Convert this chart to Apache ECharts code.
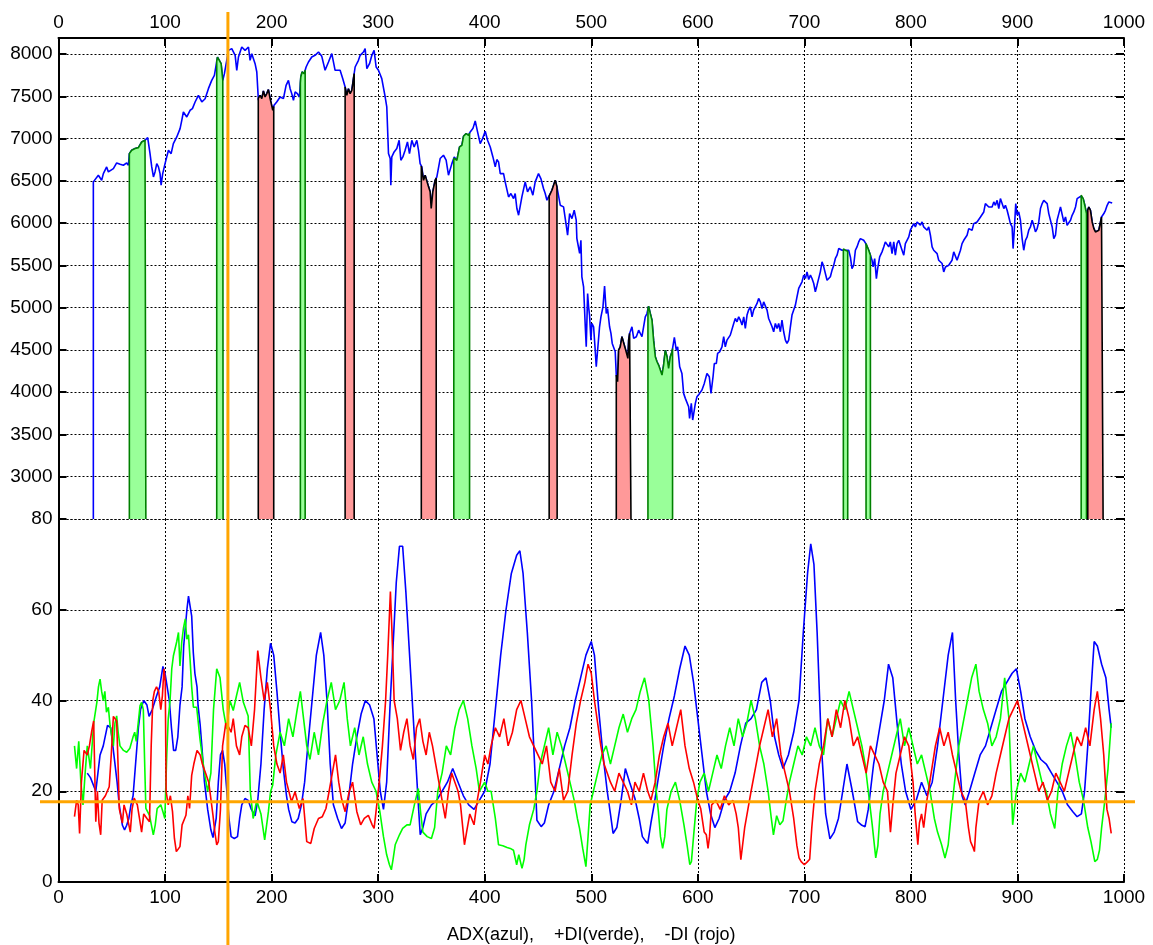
<!DOCTYPE html>
<html><head><meta charset="utf-8">
<script src="https://cdn.jsdelivr.net/npm/echarts@6.0.0/dist/echarts.min.js"></script>
<style>html,body{margin:0;padding:0;background:#fff}#c{width:1153px;height:945px}</style>
</head><body><div id="c"></div><script>
// ---- data ----
const price = [[32.7,2500],[32.7,6488],[37.4,6566],[39,6547],[40.5,6507],[42.1,6586],[45.2,6665],[46.8,6606],[48.4,6586],[51.5,6645],[54.6,6712],[57.8,6696],[60.9,6685],[64,6712],[65.6,6685],[66.5,6822],[68.7,6862],[71.9,6882],[75,6893],[76.5,6870],[78.1,6960],[81.2,6980],[83.7,7012],[85.9,6822],[87.5,6665],[89.1,6547],[90.6,6606],[92.2,6704],[93.8,6665],[95.3,6586],[96.3,6448],[97.8,6586],[100,6704],[103.2,6862],[105.7,6822],[107.8,6941],[111,7019],[114.1,7118],[115.7,7216],[117.2,7315],[120.4,7256],[123.5,7335],[125.7,7354],[128.2,7433],[131.3,7512],[132.9,7472],[134.5,7433],[137.6,7472],[140.7,7591],[143.8,7689],[146.3,7748],[147.9,7867],[149.2,7965],[150.7,7973],[152.6,7886],[154.2,7689],[155.7,7768],[157.9,7926],[159.5,8044],[162.6,8064],[165.8,7985],[167.3,7807],[168.9,7965],[172,8083],[175.1,8044],[178.3,8083],[179.8,7926],[181.4,8004],[184.5,7886],[186.1,7788],[187.6,7453],[189.2,7512],[190.8,7473],[192.3,7563],[193.9,7492],[195.5,7532],[197,7579],[198.6,7473],[200.1,7453],[201.1,7335],[202.3,7394],[204.8,7433],[208,7492],[211.1,7473],[213.6,7630],[215.8,7689],[217.4,7591],[218.9,7532],[220.5,7453],[222.1,7552],[224.2,7532],[226.1,7492],[227.4,7729],[228.6,7788],[230.5,7768],[232.4,7847],[234.6,7906],[237.7,7965],[240.8,7985],[244,8024],[247.1,7973],[250.2,7808],[253.4,7906],[256.5,8005],[259.6,7808],[264.3,7808],[266.8,7709],[269,7611],[270.6,7512],[272.1,7591],[273.7,7532],[275.3,7571],[276.8,7709],[278.4,7847],[281.5,7926],[283.1,7985],[286.2,8024],[287.8,8064],[289.4,7827],[291.9,7886],[294.1,7985],[296.2,8044],[298.1,7847],[300.3,7808],[303.4,7709],[306.6,7492],[308.1,7374],[309.7,6823],[311.3,6764],[311.9,6448],[312.8,6783],[315,6842],[317.5,6882],[319.7,6980],[321.3,6744],[323.2,6783],[325.3,6862],[327.5,6961],[329.4,6823],[331.6,6980],[333.8,6901],[336.3,6980],[337.9,6862],[339.4,6704],[341,6665],[342.6,6507],[344.1,6567],[345.7,6586],[347.3,6429],[348.8,6370],[349.8,6173],[351.3,6370],[353.5,6507],[355.1,6547],[356.6,6547],[358.2,6764],[361.3,6803],[363.8,6744],[366,6567],[367.6,6547],[369.2,6704],[371.4,6783],[373.9,6744],[376.4,6901],[378.6,6921],[380.1,7027],[382.6,7059],[384.8,7039],[386.4,7079],[388.9,7118],[391.1,7209],[393.3,7079],[395.8,6941],[398,7000],[400.5,7087],[402.7,6980],[405.2,6901],[407.7,6783],[409.9,6665],[411.4,6752],[413,6724],[414.6,6586],[417.7,6586],[419.2,6488],[422.4,6310],[424.6,6350],[427.1,6291],[428.6,6350],[430.2,6173],[431.8,6094],[434.9,6310],[438,6488],[440.2,6370],[442.7,6429],[445.2,6330],[447.4,6488],[450.5,6586],[452.7,6527],[455.2,6409],[456.8,6350],[458.4,6271],[459.9,6310],[461.5,6330],[463.1,6389],[464.6,6409],[466.2,6507],[467.8,6429],[468.4,6429],[470.9,6212],[474,6192],[476.5,5976],[477.8,5857],[479.7,6113],[481.9,6054],[484,6153],[485.9,6035],[486.5,5818],[488.1,5798],[489.1,5641],[490.3,5798],[491.2,5365],[492.8,5247],[494.4,4774],[495.3,4537],[496.6,5168],[497.5,5010],[498.4,4912],[499.7,4616],[500.6,4813],[502.2,4774],[503.5,4537],[504.7,4301],[506,4301],[507.8,4774],[509.1,4892],[511,5010],[512.5,5255],[514.1,4931],[515.3,4990],[517.2,4774],[518.5,4695],[519.7,4577],[521,4557],[522.5,4478],[523.5,4203],[524.7,4124],[525.7,4498],[527.2,4537],[528.8,4656],[530.4,4656],[531.9,4518],[533.5,4537],[534.4,4400],[535.1,4616],[536,4695],[537.3,4715],[538.2,4774],[539.8,4636],[542.3,4656],[544.5,4734],[546,4715],[547.6,4656],[549.2,4675],[550.7,4892],[552.3,4931],[553.8,5018],[555.4,4931],[557,4853],[558.5,4616],[560.1,4419],[561.7,4360],[563.2,4321],[564.8,4262],[566.4,4203],[567.9,4321],[569.5,4498],[571.1,4419],[572.6,4281],[574.2,4419],[575.8,4478],[578,4648],[579.8,4498],[581.1,4537],[583,4301],[585.1,4222],[586.7,3986],[588.3,3927],[589.8,3907],[591.4,3828],[592.3,3690],[593.9,3868],[595.2,3671],[596.7,3651],[597.7,3868],[599.2,3946],[601.7,3986],[603.9,4025],[606.1,4104],[608.6,4222],[610.8,4183],[612.4,3986],[614.3,4183],[615.5,4340],[617.4,4340],[618.6,4459],[620.5,4478],[622.7,4537],[624.3,4656],[625.8,4537],[627.4,4616],[629,4636],[630.5,4675],[632.1,4656],[633.7,4813],[635.2,4872],[636.8,4833],[638.4,4892],[639.9,4853],[641.5,4794],[643.1,4892],[644.6,4754],[646.2,4912],[647.7,4971],[649.3,5010],[650.9,4892],[652.4,4971],[654,4990],[655.6,5050],[657.1,5109],[658.7,5069],[660.3,4990],[661.8,5069],[663.4,5089],[665,4971],[666.5,4872],[668.1,4853],[669.7,4774],[671.2,4715],[672.8,4813],[674.4,4754],[675.9,4813],[677.5,4715],[679,4853],[680.6,4715],[682.2,4616],[683.7,4577],[685.3,4616],[686.9,4774],[688.4,4912],[690,4971],[691.6,5030],[693.1,5128],[694.7,5227],[696.3,5207],[697.8,5306],[699.4,5385],[701,5345],[702.5,5424],[704.1,5333],[705.7,5385],[707.2,5345],[708.8,5286],[710.3,5188],[711.9,5266],[713.5,5247],[715,5424],[716.6,5542],[718.2,5483],[719.7,5503],[721.3,5325],[722.9,5306],[724.4,5365],[726,5444],[727.6,5503],[729.1,5582],[730.7,5621],[732.3,5700],[733.8,5720],[735.4,5679],[736.9,5699],[738.5,5679],[740.1,5660],[741.6,5679],[743.2,5600],[744.7,5462],[746.3,5502],[747.9,5679],[749.4,5719],[751,5778],[752.6,5817],[754.1,5837],[755.7,5797],[757.3,5766],[758.8,5750],[760.4,5679],[762,5620],[763.5,5561],[764.5,5482],[766,5581],[767.6,5344],[768.8,5463],[770.7,5600],[772.9,5660],[774.5,5719],[776,5778],[777.6,5797],[779.2,5719],[780.7,5778],[782.3,5640],[783.9,5778],[785.4,5620],[787,5758],[788.6,5797],[790.1,5778],[791.7,5679],[793.3,5620],[794.8,5758],[796.4,5738],[798,5837],[799.5,5916],[801.1,5935],[802.7,5994],[804.2,5955],[805.8,6014],[807.3,6034],[808.9,5975],[810.5,6014],[812,5955],[813.6,5975],[815.2,5916],[816.7,5955],[818.3,5857],[819.9,5719],[821.4,5679],[823,5699],[824.6,5640],[826.1,5561],[827.7,5581],[829.3,5522],[830.8,5423],[832.4,5482],[834,5482],[835.5,5502],[837.1,5502],[838.6,5561],[840.2,5660],[841.8,5660],[843.3,5561],[844.9,5541],[846.5,5679],[848,5758],[849.6,5797],[851.2,5778],[852.7,5857],[854.3,5935],[855.9,5955],[857.4,5916],[859,5994],[860.6,5994],[862.1,6014],[863.7,6034],[865.3,6073],[866.8,6093],[868.4,6132],[869.9,6231],[871.5,6231],[873.1,6191],[874.6,6211],[876.2,6191],[877.8,6251],[879.3,6211],[880.9,6270],[882.5,6172],[884,6290],[885.6,6310],[887.2,6172],[888.7,6211],[890.3,6152],[891.9,6073],[893.4,5994],[895,5955],[895.9,5699],[897.2,5955],[898.4,6231],[899.7,6093],[901.2,6132],[902.8,6034],[904.4,5817],[905.9,5679],[907.5,5797],[909.1,5837],[910.6,5916],[912.2,5955],[913.8,6034],[915.3,5975],[916.9,5896],[918.5,5935],[920,6014],[921.6,6172],[923.2,6231],[924.7,6270],[926.3,6270],[927.9,6231],[929.4,6113],[931,6093],[932.6,5955],[934.1,5817],[935.7,5857],[937.2,6034],[938.8,6113],[940.4,6191],[941.9,6172],[943.5,6014],[945.1,6073],[946.6,5975],[948.2,5955],[949.8,6034],[951.3,6093],[952.9,6132],[954.5,6191],[956,6290],[957.6,6302],[959.2,6317],[960.1,6337],[961.7,6290],[963.2,6211],[964.8,6113],[967,6191],[968.5,6152],[970.1,6014],[971.7,5935],[973.2,5896],[974.8,5916],[976.4,5916],[977.9,5935],[978.9,6073],[980.4,6073],[981.1,6113],[982.6,6152],[984.2,6211],[985.8,6251],[987.3,6251],[988.9,6239]];

// signal bands: [start, end, kind]  'up' = green, 'down' = red
const bands = [[66.5,82,'up'],[148.5,154.5,'up'],[187.5,202,'down'],[227,231.5,'up'],[269,277.5,'down'],[340.5,354.5,'down'],[371,385.8,'up'],[460.5,468,'down'],[523.5,537.3,'down'],[553.2,576.3,'up'],[736.6,740.7,'up'],[757.9,762,'up'],[959.8,964.8,'up'],[966,980.4,'down']];

// ADX (blue)
const adx = [[27,24],[30,23],[35,20],[39,28],[42,30],[46,34.5],[49,34],[52,28],[55,22],[57,17],[60,12.5],[62,11.5],[64,12.5],[66,14],[68,17],[70,19],[72,25],[75,34],[77,38],[80,40],[83,39],[85,36.5],[88,38],[92,41],[95,43],[98,47.5],[100,46],[102,43],[104,40],[106,34],[108,29],[110,29],[112,32],[114,39],[116,43],[117.5,52],[119,56],[120.5,60],[122,63],[123.5,62.7],[125,58.6],[126.5,50.6],[128,46],[130,43],[131,38.8],[133,34.5],[134.5,30],[137,22],[140,16],[143,11.5],[145,9.8],[148,14],[150,22],[152,28],[154,29],[156,26],[158,20],[160,14],[162,10],[165,9.6],[168,10],[170,14],[172,17],[175,18.4],[178,18],[181,16],[184.5,14.6],[187,18],[190,26],[193,38],[196,47],[199,52.6],[202,50],[205,42],[208,33],[211,25],[214,19],[216,16],[219,13.3],[222,13],[225,14],[228,17],[231,22],[234,30],[238,40],[242,50],[246,55],[249,50],[252,40],[255,26],[258,17],[262,14],[265.6,11.8],[269,13],[272,18],[276,26],[280,32],[284,37],[288,40],[292,39],[296,36],[299,28],[302,20],[305,16],[308,22],[311,38],[314,52],[317,66],[320,74],[323,74],[326,64],[329,52],[332,40],[335,28],[338,16],[339.5,10.4],[342,12],[345,15],[350,17],[355,18],[360,20],[365,22],[370,25],[375,22],[380,19],[385,17],[390,16],[395,18],[400,20],[405,26],[410,38],[415,50],[420,60],[425,68],[430,72],[433,73],[436,68],[440,55],[444,40],[447,25],[449,13.6],[453,12.2],[456,13],[460,17],[465,20],[470,25],[475,30],[480,34],[485,40],[490,45],[495,50],[500,53],[503,50],[507,38],[511,28],[515,20],[518,15],[520.5,10.7],[524,12],[528,18],[532,25],[536,22],[541,18.4],[545,14],[548,10],[551,9],[553,8.5],[556,13],[559,17],[563,23],[568,30],[573,36],[578,41],[583,47],[588,52],[592,50],[596,44],[600,36],[604,28],[608,20],[612,15],[616,12],[620,14],[625,18],[630,20],[635,24],[640,30],[645,35],[650,36],[655,38],[660,44],[664,45],[668,40],[672,32],[676,28],[680,25],[685,28],[690,33],[695,40],[699,55],[703,68],[706,74.5],[709,70],[712,55],[716,30],[720,15],[724,9.5],[728,11],[732,14],[736,20],[740,26],[745,20],[750,13.3],[754,12.5],[757,12.2],[760,16],[765,26],[770,33],[775,40],[779,48],[783,45],[787,35],[791,26],[795,20],[800,16],[805,18],[810,22],[815,19],[820,22],[825,30],[830,40],[835,50],[839,55],[842,40],[845,28],[848,19],[851,17],[855,20],[860,24],[865,28],[870,30],[875,34],[880,38],[885,42],[890,44],[895,46],[899,47],[903,42],[907,36],[912,32],[917,29],[922,27],[927,26],[932,24],[937,22],[942,20],[947,17],[952,15.5],[956,14.4],[960,15],[963,20],[966,30],[969,42],[972,53],[975,52],[979,48],[983,45],[986,38],[988,34]];

// +DI (green)
const pdi = [[15,30],[17,25],[19,31],[21,22],[23,17],[25,24],[27,30],[30,25],[33,35],[36,39.6],[37.5,43],[39,44.7],[40.5,42],[42,40],[43.5,42],[45,37.4],[46.8,38.5],[48.4,34.5],[51.5,30],[53,35],[54.6,36.6],[56,33],[57.7,30],[61,29],[64,28.6],[67,29.5],[70,32],[71.5,33],[73,31],[76.5,38.8],[78,39.6],[79.6,38],[81,25],[82,16.2],[85.4,14.7],[89,10.4],[90.8,12.6],[92.6,16.2],[96,17],[98,15.5],[99.8,14],[101.6,28],[103,36],[104.7,40],[106.3,47],[107.8,49.8],[111,53],[112.6,55],[114,47.6],[115.7,53],[117.3,56],[119,58],[120.4,53.5],[122,54.5],[123.5,49],[125,43],[126.6,38.5],[129.7,38.5],[132.8,31.5],[134.4,28.6],[137,24],[140,20],[143,24],[145.5,38],[148.5,47],[151.6,45],[154.6,38],[157.8,33.7],[160.9,40],[164,37.8],[167,41],[170,44],[173.5,39.6],[178,36.6],[180,20],[182.7,14],[186,18],[190,15],[193.5,9.3],[197,15.5],[199,19.9],[201,21.3],[204,28],[208,33],[212,30],[216,36],[220,32],[224,38],[227,42],[230,36],[233,30],[236,27],[240,33],[244,28],[248,35],[252,40],[256,44],[260,38],[264,40],[268,44],[271,36],[274,30],[278,34],[282,28],[286,32],[290,26],[294,22],[298,20],[301.6,15.5],[305,10],[308,6],[310.6,3.8],[312.4,2.7],[314,5],[316,8.2],[320,10.4],[323,11.8],[327,12.6],[330,12.6],[334,17],[337.7,20.6],[340,15],[342,11],[346,10],[350,9.6],[353,12],[356,20],[360,24],[364,30],[368,28],[372,34],[376,38],[380,40],[384,36],[388,30],[392,25],[395,20],[400,22],[403,20],[406,20],[410,14],[413,8.2],[417,8],[421,7.6],[424,7.4],[427,7],[430,3.8],[432,6],[435,3],[437,5],[438.6,8.2],[442,12.6],[446,16],[449,20],[452,26],[456,30],[460,34],[464,28],[468,33],[472,30],[476,26],[480,22],[484,18],[487,14],[489,11.8],[492,7.4],[495,3.4],[497,10],[499,17],[502,20],[506,24],[510,28],[514,30],[518,26],[522,30],[526,34],[530,37],[534,33],[538,36],[542,38],[546,42],[550,45],[554,40],[558,30],[561,20],[563,15.5],[565,10],[567,7.4],[569,10],[571,16],[575,20],[579,22],[583,18],[587,12.6],[590,8],[592.5,3.8],[594,4.5],[596,10],[599,18],[602,22],[606,24],[610,20],[614,24],[618,28],[622,25],[626,30],[630,34],[634,30],[638,36],[642,32],[646,35],[650,40],[654,36],[658,30],[662,26],[666,20],[669,14],[671,10.4],[674,14.6],[677,12.6],[680,13.5],[683,18],[686,22],[690,26],[694,30],[698,28],[702,32],[706,30],[710,34],[714,30],[718,28],[722,36],[726,32],[730,36],[734,40],[738,38],[742,42],[746,38],[750,34],[754,30],[757,26],[760,20],[763.7,12.6],[767,5.3],[769,8],[771,15],[774,20],[778,24],[782,28],[786,32],[790,36],[794,30],[798,34],[802,30],[806,26],[810,28],[814,24],[818,20],[822,14],[825,11],[828.8,8.2],[832,5.3],[835,8.2],[838,15.5],[841,22],[845,30],[849,35],[853,40],[857,45],[861,48],[864,42],[868,38],[872,35],[876,30],[880,32],[884,36],[888,45],[892,36],[895.5,12.6],[899,20],[903,24],[907,22],[911,26],[915,30],[919,26],[923,22],[927,20],[931,15],[935,11.8],[938,20],[942,26],[946,30],[950,33],[954,28],[958,22],[962,18],[966,12],[969,8.9],[972.6,4.5],[975,5],[977,7],[979,12],[982,18],[985,25],[988,35]];

// -DI (red)
const mdi = [[15,14.4],[17,18],[18.5,17],[19.8,10.7],[21.5,22],[24,29],[27,28],[29,30],[31,33],[33,35.5],[35,13.3],[36.5,20],[38,13],[39.6,10.4],[41,18],[44,19],[47.6,21],[49.5,28],[51.5,36.5],[54.6,35.5],[56,25],[57,16.2],[60,13],[61.5,17],[64,15],[67.4,11],[69,16],[71,18.5],[74,17],[76,14],[78,11],[80,15],[83,14],[85.4,13.3],[87,30],[88.5,40],[90,42],[92,43],[94,42],[96,38],[97.5,41],[99,47],[100.2,44],[101,20],[103,17],[105,19],[107,15.5],[108.8,9.6],[110.6,6.7],[114,7.8],[116,12.6],[119.6,14.7],[121.4,19],[123,16.2],[125,23.5],[127,26],[130,29],[133,28],[135,26],[138,24],[141,22],[145,14.7],[146.7,11],[148.5,8.2],[150,8.9],[152,16],[154,30],[157,35],[160,34],[162,33],[164,36],[167,30],[170,28],[172,32],[175,34.5],[178,34],[181,30],[184,38],[187,51],[190,45],[193,40],[196,44],[199,38],[202,30],[205,26],[208,24],[211,28],[214,22],[218.7,17.7],[222,19.9],[226,16.2],[229.5,18.4],[233,8.9],[236.8,8.5],[240,11.8],[244,14],[247.6,14.4],[251,16.2],[254,20],[257,24],[260,28],[263,22],[265.6,18.4],[269,15.5],[272.8,19.9],[276,22],[280,15.5],[283.6,12.6],[287,14],[290.8,14.7],[294.4,12.6],[296.2,11.8],[298,15.5],[301,22],[304,30],[307,40],[309,50],[311.5,64],[313,55],[315,40],[318,36],[321,29],[324,33],[327,36],[330,30],[333,27],[336,34],[339,36],[342,31],[345,28],[348,33],[351,30],[354,26],[357,22],[360,18],[363,14],[366,20],[369,24],[372,22],[375,20],[377.3,17],[381,8.2],[383,11],[386,15],[390,12.6],[393,18],[396,22],[400,28],[403,26],[406,30],[410,34],[414,32],[418,36],[422,30],[426,33],[430,38],[434,40],[438,36],[442,32],[446,30],[450,28],[454,26],[458,30],[462,22],[466,20],[470,25],[474,18],[478,20],[482,28],[486,35],[490,40],[494,44],[497,48],[500,46],[503,40],[506,35],[509,30],[512,26],[515,24],[518,22],[522,20],[526,24],[530,22],[534,20],[537.7,17],[541,22],[545,20],[549,24],[553,20],[556,18],[560,22],[564,28],[568,32],[572,35],[576,30],[580,34],[584,38],[588,30],[592,25],[596,22],[600,18],[602.7,16.2],[606,11],[608,10.4],[609.6,7.4],[611,10],[613,17],[617,18],[621,16],[625,19],[629,17],[633,18],[636,15],[638,12],[640.4,4.9],[642,5],[644,12],[647,16],[650,20],[654,25],[658,30],[662,34],[666,38],[670,32],[674,36],[678,28],[682,24],[686,20],[690,14],[693,8],[695,5.3],[697,4.5],[700,3.8],[703,4.5],[705,5],[707,12],[710,20],[714,26],[718,30],[722,36],[726,32],[730,38],[734,34],[738,40],[742,36],[746,30],[750,32],[754,28],[758,24],[762,30],[766,28],[770,26],[774,22],[778,20],[780.8,11],[783,17],[786,24],[790,28],[794,32],[798,30],[802,22],[804,15],[806.5,8.2],[808,13],[810,15],[812,12],[815,18],[819,24],[823,30],[827,34],[831,30],[835,33],[839,28],[843,24],[847,20],[851,18],[854,12],[856,8.9],[858,7.8],[859.6,6.7],[861,12],[864,18],[868,20],[872,17],[876,19],[880,24],[884,28],[888,32],[892,36],[896,38],[900,40],[904,36],[908,32],[912,28],[916,24],[920,20],[924,22],[928,18],[932,20],[936,24],[940,22],[944,20],[948,24],[952,28],[956,32],[960,30],[964,34],[968,30],[972,38],[975,42],[978,36],[981,28],[984,16],[986,14],[988,10.7]];

const cursorX = 159;     // vertical cursor (orange)
const cursorY = 17.7;    // horizontal threshold (orange)
const xLabelTitle = 'ADX(azul),    +DI(verde),    -DI (rojo)';

// ---- chart ----
const PMIN = 2500, PMAX = 8190;
const FONT = 'Liberation Sans, Arial, sans-serif';
function priceAt(x){
  for (let i=1;i<price.length;i++){
    if (price[i][0] >= x){
      const a = price[i-1], b = price[i];
      const t = (x - a[0]) / ((b[0] - a[0]) || 1);
      return a[1] + t * (b[1] - a[1]);
    }
  }
  return price[price.length-1][1];
}
const bandSeries = bands.map(([s,e,k]) => {
  const pts = [[s,PMIN],[s,priceAt(s)]].concat(price.filter(p => p[0] > s && p[0] < e)).concat([[e,priceAt(e)],[e,PMIN]]);
  const up = k === 'up';
  return {type:'line', xAxisIndex:0, yAxisIndex:0, data:pts, showSymbol:false, z:4,
    lineStyle:{color: up ? '#008000' : '#000000', width:1.6},
    areaStyle:{color: up ? '#99ff99' : '#ff9999', opacity:1, origin:'start'}};
});

const fmt = v => String(v);
const style = () => ({
  axisLine:{show:true, lineStyle:{color:'#000', width:2}},
  axisTick:{show:true, inside:true, length:8, lineStyle:{color:'#000', width:2}},
  axisLabel:{color:'#000', fontSize:19, fontFamily:FONT, margin:6, formatter:fmt},
  splitLine:{show:true, lineStyle:{color:'#000', type:[2,2], width:1}}
});
const mirror = (gi, min, max, interval) => ({
  type:'value', gridIndex:gi, position:'right', min, max, interval,
  axisLine:{show:false}, axisLabel:{show:false}, splitLine:{show:false},
  axisTick:{show:true, inside:true, length:8, lineStyle:{color:'#000', width:2}}
});

const chart = echarts.init(document.getElementById('c'), null, {renderer:'canvas'});
chart.setOption({
  animation:false,
  backgroundColor:'#fff',
  grid:[{left:58.5, right:29, top:38, height:481}, {left:58.5, right:29, top:519, height:365}],
  xAxis:[
    Object.assign({type:'value', gridIndex:0, position:'top', min:0, max:1000, interval:100}, style()),
    Object.assign({type:'value', gridIndex:1, position:'bottom', min:0, max:1000, interval:100,
      name:xLabelTitle, nameLocation:'middle', nameGap:44,
      nameTextStyle:{color:'#000', fontSize:18, fontFamily:FONT}}, style())
  ],
  yAxis:[
    Object.assign({type:'value', gridIndex:0, min:PMIN, max:PMAX, interval:500}, style(),
      {axisLabel:{color:'#000', fontSize:19, fontFamily:FONT, margin:6, formatter:fmt, showMinLabel:false, showMaxLabel:false}}),
    Object.assign({type:'value', gridIndex:1, min:0, max:80, interval:20}, style()),
    mirror(0, PMIN, PMAX, 500),
    mirror(1, 0, 80, 20)
  ],
  series:[
    {type:'line', xAxisIndex:0, yAxisIndex:0, data:price, showSymbol:false, z:3,
      lineStyle:{color:'#0000ff', width:1.6}},
    ...bandSeries,
    {type:'line', xAxisIndex:1, yAxisIndex:1, data:adx, showSymbol:false, z:3, lineStyle:{color:'#0000ff', width:1.6}},
    {type:'line', xAxisIndex:1, yAxisIndex:1, data:pdi, showSymbol:false, z:3, lineStyle:{color:'#00ff00', width:1.6}},
    {type:'line', xAxisIndex:1, yAxisIndex:1, data:mdi, showSymbol:false, z:3, lineStyle:{color:'#ff0000', width:1.6}}
  ]
});
const cx = chart.convertToPixel({xAxisIndex:0}, cursorX);
const cy = chart.convertToPixel({yAxisIndex:1}, cursorY);
chart.setOption({graphic:[
  {type:'line', z:100, shape:{x1:cx, y1:12, x2:cx, y2:945}, style:{stroke:'#ffa500', lineWidth:3}},
  {type:'line', z:100, shape:{x1:40, y1:cy, x2:1135, y2:cy}, style:{stroke:'#ffa500', lineWidth:3}}
]});
</script></body></html>
